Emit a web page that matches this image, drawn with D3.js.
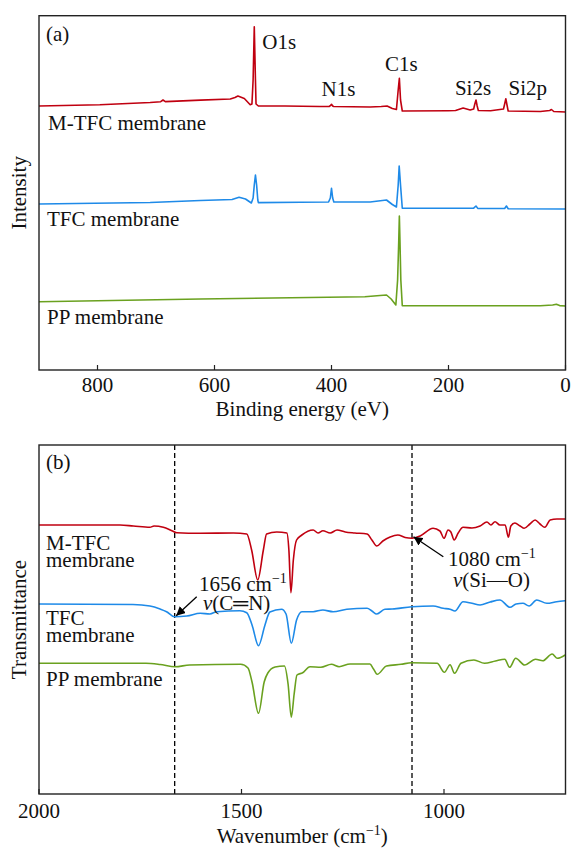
<!DOCTYPE html>
<html>
<head>
<meta charset="utf-8">
<script src="https://cdn.jsdelivr.net/npm/d3@7"></script>
<style>
  body { margin: 0; background: #fff; }
  svg text { font-family: "Liberation Serif", "Times New Roman", serif; fill: #111; }
</style>
</head>
<body>
<div class="chart"></div>
<script>
// XPS survey, [binding energy eV, intensity a.u.]
var mtfcXps = [[900,264],[796,265.3],[710,267.5],[692,268.3],[688,270],[684,268.4],[624,269.9],[573,271],[565,272.5],[560,274],[549,271.5],[539,265.3],[536,266],[534,290],[532,343.3],[530,290],[529,266],[525,264],[480,264],[420,263.5],[404,263.5],[402,264.3],[400,265.7],[398,264],[396,263.5],[334,263],[315,263.5],[305,264],[296,261.5],[289,260.5],[286,280],[284,291.7],[282,270],[279,259],[200,259.3],[188,259.5],[175,262],[163,260],[157,261],[155,266],[153,270],[151,264],[149,259.5],[128,259.3],[106,261],[104,266],[102,271.3],[100,265],[98,259],[43,258.5],[27,259.5],[24,260.5],[20,258.5],[0,258]];
var tfcXps = [[900,166],[710,167.5],[624,169.5],[570,170.5],[558,172.7],[547,171],[537,167],[534,172],[532,185],[530,195],[528,185],[526,170],[525,167.4],[453,167.8],[405,168],[402,172],[400,181.7],[398,172],[396,168],[334,168],[306,170],[296,165.5],[289,163],[286,185],[284.3,204],[282,185],[279,161.7],[160,161.7],[157,161.8],[153,164],[150,161.6],[104,161.5],[101,164],[98,161.3],[0,161]];
var ppXps = [[900,68.3],[624,71],[343,73.3],[317,74.5],[306,75],[298,71],[290,65],[287,90],[285,130],[284,154],[283,130],[281.5,90],[279,64.3],[43,64.3],[22,65],[15.6,65.7],[10,64.4],[0,64]];

// FTIR, [wavenumber cm-1, transmittance a.u.]
var mtfcFtir = [[2000,269],[1800,269],[1767,268],[1726,266.7],[1716,268],[1693,266.7],[1672,263.3],[1660,261.3],[1602,260.7],[1520,261],[1487,260],[1475,244],[1460,214],[1446,244],[1438,260],[1413,262],[1388,261],[1383,244],[1378,201.3],[1372,234],[1364,254],[1351,259],[1323,264],[1311,261],[1299,263.3],[1281,261],[1264,264],[1244,262],[1220,261],[1190,260],[1178,254],[1166,248],[1151,253],[1133,257],[1114,259],[1096,256.5],[1079,255.7],[1059,258],[1027,265.7],[1010,263],[1000,255.7],[990,264],[983,262],[975,254],[965,261],[953,266.7],[931,266],[911,268],[894,272],[884,269],[874,272.3],[862,269],[849,269],[841,256.7],[835,268],[825,271],[812,268],[802,265.7],[788,270],[775,274],[763,270],[751,266.7],[738,274],[721,275],[701,275]];
var tfcFtir = [[2000,190],[1768,189.5],[1726,188],[1701,185],[1685,182.3],[1666,177.3],[1635,178],[1602,180.7],[1578,180],[1561,182.3],[1504,183.3],[1487,181.3],[1474,169],[1458,148.3],[1442,169],[1430,182],[1401,184.7],[1390,180],[1377,150.7],[1364,174],[1351,182.3],[1323,182.3],[1299,184],[1274,182.3],[1240,184.7],[1190,185.7],[1178,183],[1166,180],[1146,184.7],[1128,185],[1079,187.3],[1027,188],[1002,185.7],[985,184.7],[973,183],[953,192.3],[931,190.7],[911,189],[886,192],[862,194],[837,186.7],[822,190],[805,190.7],[790,188],[771,194],[746,190.7],[722,192.3],[701,193.3]];
var ppFtir = [[2000,130.7],[1736,130.7],[1701,129.5],[1664,127.3],[1628,129],[1502,129.7],[1484,126],[1474,112],[1458,80.7],[1444,112],[1435,121],[1417,127],[1394,128],[1385,110],[1377,76.7],[1370,100],[1363,119],[1349,121.3],[1331,127.3],[1304,126.7],[1278,129.7],[1259,127.3],[1232,130],[1183,130],[1174,125],[1165,119.7],[1142,128],[1106,129.7],[1080,131.3],[1017,130.7],[999,121.7],[985,129.3],[974,120.7],[958,130.7],[926,134],[900,130.7],[873,133],[850,134.7],[838,126.7],[823,135.7],[801,129],[774,134.7],[756,133.3],[733,140],[720,135.7],[701,139]];

var xpsTicks = [800, 600, 400, 200, 0];
var ftirTicks = [2000, 1500, 1000];
var peakNames = ["O1s", "N1s", "C1s", "Si2s", "Si2p"];
var peakEnergies = [532, 400, 284, 153, 102];
var markLines = [1665, 1079];

var colors = { mtfc: "#c00010", tfc: "#1e8ae8", pp: "#6aa11f" };

var svgWidth = 571, svgHeight = 848;
var left = 39, right = 565.5;

var svg = d3.select(".chart").append("svg")
  .attr("width", svgWidth)
  .attr("height", svgHeight);

svg.append("defs").append("marker")
  .attr("id", "arrow")
  .attr("viewBox", "0 0 10 10")
  .attr("refX", 10).attr("refY", 5)
  .attr("markerWidth", 9).attr("markerHeight", 9)
  .attr("markerUnits", "userSpaceOnUse")
  .attr("orient", "auto")
  .append("path").attr("d", "M0,0 L10,5 L0,10 z").attr("fill", "#000");

function frame(top, bottom) {
  svg.append("rect")
    .attr("x", left).attr("y", top)
    .attr("width", right - left).attr("height", bottom - top)
    .attr("fill", "none").attr("stroke", "#222").attr("stroke-width", 1.4);
}

function drawAxis(x, ticks, bottom, labelY) {
  var g = svg.append("g");
  g.selectAll("line").data(ticks).enter().append("line")
    .attr("x1", d => x(d)).attr("x2", d => x(d))
    .attr("y1", bottom).attr("y2", bottom - 5)
    .attr("stroke", "#222").attr("stroke-width", 1.2);
  g.selectAll("text").data(ticks).enter().append("text")
    .attr("x", d => x(d)).attr("y", labelY)
    .attr("text-anchor", "middle")
    .attr("font-size", 21)
    .text(d => d);
}

function label(x, y, str, anchor) {
  return svg.append("text")
    .attr("x", x).attr("y", y)
    .attr("font-size", 21)
    .attr("text-anchor", anchor || "start")
    .text(str);
}

// ---------- (a) XPS ----------
var topA = 15.7, bottomA = 370;
var xA = d3.scaleLinear().domain([900, 0]).range([left, right]);
var yA = d3.scaleLinear().domain([0, 354.3]).range([bottomA, topA]);
var lineA = d3.line().x(d => xA(d[0])).y(d => yA(d[1]));

[[mtfcXps, colors.mtfc], [tfcXps, colors.tfc], [ppXps, colors.pp]].forEach(function(s) {
  svg.append("path").datum(s[0])
    .attr("d", lineA)
    .attr("fill", "none")
    .attr("stroke", s[1])
    .attr("stroke-width", 1.6)
    .attr("stroke-linejoin", "round");
});

frame(topA, bottomA);
drawAxis(xA, xpsTicks, bottomA, 392);

label(46, 40.5, "(a)");
label(48, 130, "M-TFC membrane");
label(47, 226, "TFC membrane");
label(47, 324, "PP membrane");

var peakOffsets = [[8, 49], [7, 95.5], [2, 70.7], [-3, 94.5], [22, 94.5]];
peakNames.forEach(function(n, i) {
  label(xA(peakEnergies[i]) + peakOffsets[i][0], peakOffsets[i][1], n, i === 0 ? "start" : "middle");
});

label((left + right) / 2, 416, "Binding energy (eV)", "middle");
svg.append("text")
  .attr("transform", "translate(26," + ((topA + bottomA) / 2) + ") rotate(-90)")
  .attr("text-anchor", "middle").attr("font-size", 21)
  .text("Intensity");

// ---------- (b) FTIR ----------
var topB = 445, bottomB = 794;
var xB = d3.scaleLinear().domain([2000, 700]).range([left, right]);
var yB = d3.scaleLinear().domain([0, 349]).range([bottomB, topB]);
var lineB = d3.line().x(d => xB(d[0])).y(d => yB(d[1])).curve(d3.curveMonotoneX);

svg.selectAll(".mark").data(markLines).enter().append("line")
  .attr("class", "mark")
  .attr("x1", d => xB(d)).attr("x2", d => xB(d))
  .attr("y1", topB).attr("y2", bottomB)
  .attr("stroke", "#000").attr("stroke-width", 1.3)
  .attr("stroke-dasharray", "5,3");

[[mtfcFtir, colors.mtfc], [tfcFtir, colors.tfc], [ppFtir, colors.pp]].forEach(function(s) {
  svg.append("path").datum(s[0])
    .attr("d", lineB)
    .attr("fill", "none")
    .attr("stroke", s[1])
    .attr("stroke-width", 1.6)
    .attr("stroke-linejoin", "round");
});

frame(topB, bottomB);
drawAxis(xB, ftirTicks, bottomB, 818);

label(46, 469, "(b)");
label(46, 550, "M-TFC");
label(46, 567, "membrane");
label(46, 625, "TFC");
label(46, 642, "membrane");
label(46, 686, "PP membrane");

// annotations
function wavenumberLabel(x, y, num) {
  var t = label(x, y, num + " cm");
  t.append("tspan").attr("font-size", 14).attr("dy", -8).text("\u22121");
  return t;
}
wavenumberLabel(199, 591, "1656");
var t1 = label(203, 609.5, "");
t1.append("tspan").attr("font-style", "italic").text("\u03bd");
t1.append("tspan").text("(C\u2550N)");

svg.append("line")
  .attr("x1", 196.7).attr("y1", 596.7)
  .attr("x2", xB(markLines[0]) + 1.5).attr("y2", yB(177.3) - 1)
  .attr("stroke", "#000").attr("stroke-width", 1.3)
  .attr("marker-end", "url(#arrow)");

wavenumberLabel(448, 566, "1080");
var t2 = label(453, 586.5, "");
t2.append("tspan").attr("font-style", "italic").text("\u03bd");
t2.append("tspan").text("(Si\u2014O)");

svg.append("line")
  .attr("x1", 443.3).attr("y1", 556.7)
  .attr("x2", xB(markLines[1]) + 1.5).attr("y2", yB(255.7) - 1.5)
  .attr("stroke", "#000").attr("stroke-width", 1.3)
  .attr("marker-end", "url(#arrow)");

var xt = label((left + right) / 2, 843, "Wavenumber (cm", "middle");
xt.append("tspan").attr("font-size", 14).attr("dy", -8).text("\u22121");
xt.append("tspan").attr("dy", 8).text(")");

svg.append("text")
  .attr("transform", "translate(26," + ((topB + bottomB) / 2) + ") rotate(-90)")
  .attr("text-anchor", "middle").attr("font-size", 21)
  .text("Transmittance");
</script>
</body>
</html>
